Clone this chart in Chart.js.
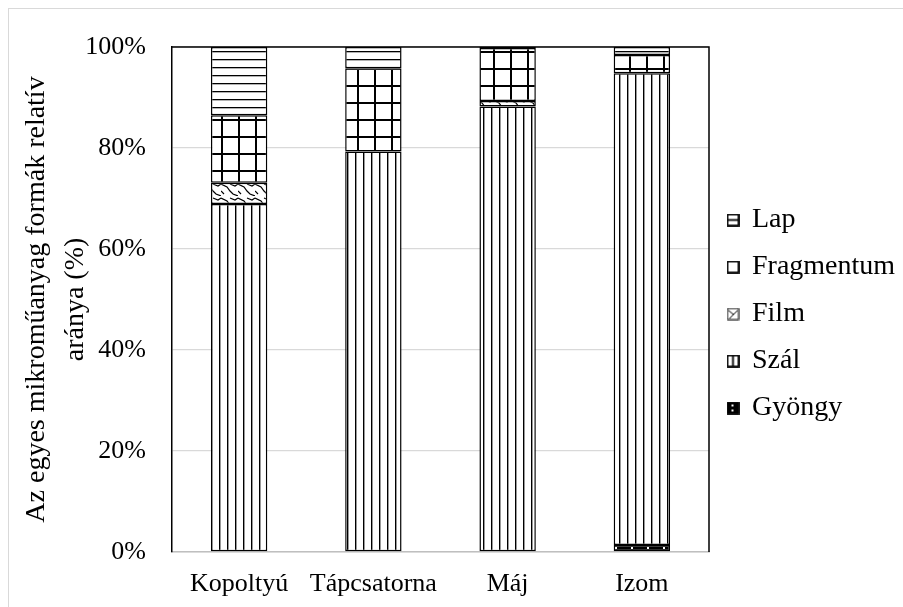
<!DOCTYPE html>
<html>
<head>
<meta charset="utf-8">
<script src="https://cdn.jsdelivr.net/npm/chart.js@4.4.1/dist/chart.umd.min.js"></script>
<style>
    body { margin: 0; background: #fff; }
    #wrap { width: 903px; height: 607px; position: relative; }
</style>
</head>
<body>
<div id="wrap"><canvas id="formakChart"></canvas></div>
<script>
// Adatok (a kép alapján becsülve, %)
const kategoriak = ['Kopoltyú', 'Tápcsatorna', 'Máj', 'Izom'];
const gyongy = [0, 0, 0, 1.4];
const szal = [68.9, 79.3, 88.2, 93.4];
const film = [4.2, 0, 1.1, 0];
const fragmentum = [13.4, 16.5, 10.5, 3.6];
const lap = [13.5, 4.2, 0.2, 1.6];
const yTickek = ['0%', '20%', '40%', '60%', '80%', '100%'];

// Mintázat készítése kis vászonból
function keszitVaszon(w, h, rajzol) {
    const c = document.createElement('canvas');
    c.width = w;
    c.height = h;
    const g = c.getContext('2d');
    rajzol(g, w, h);
    return c;
}
function minta(w, h, rajzol) {
    const c = keszitVaszon(w, h, rajzol);
    return c.getContext('2d').createPattern(c, 'repeat');
}

const mintaGyongy = minta(16, 8, (g, w, h) => {
    g.fillStyle = '#000';
    g.fillRect(0, 0, w, h);
    g.fillStyle = '#fff';
    g.fillRect(7, 3, 2, 2);
});
const mintaSzal = minta(8, 8, (g, w, h) => {
    g.fillStyle = '#fff';
    g.fillRect(0, 0, w, h);
    g.fillStyle = '#000';
    g.fillRect(3, 0, 1.4, h);
});
const mintaFilm = minta(17, 14, (g, w, h) => {
    g.fillStyle = '#fff';
    g.fillRect(0, 0, w, h);
    g.strokeStyle = '#000';
    g.lineWidth = 1.2;
    g.beginPath();
    g.moveTo(0, 2); g.lineTo(6, 5); g.lineTo(9, 9); g.lineTo(12, 12); g.lineTo(17, 14);
    g.moveTo(9, 2); g.lineTo(14, 4); g.lineTo(17, 2);
    g.moveTo(0, 9); g.lineTo(3, 12);
    g.stroke();
});
const mintaFragmentum = minta(17, 17, (g, w, h) => {
    g.fillStyle = '#fff';
    g.fillRect(0, 0, w, h);
    g.fillStyle = '#000';
    g.fillRect(0, 0, 2, h);
    g.fillRect(0, 0, w, 2);
});
const mintaLap = minta(8, 8, (g, w, h) => {
    g.fillStyle = '#fff';
    g.fillRect(0, 0, w, h);
    g.fillStyle = '#000';
    g.fillRect(0, 3, w, 1.3);
});

// Jelmagyarázat ikonok
function ikon(belso) {
    return keszitVaszon(13, 13, (g) => {
        g.fillStyle = '#fff';
        g.fillRect(0, 0, 13, 13);
        g.strokeStyle = '#000';
        g.lineWidth = 1.8;
        belso(g);
        g.strokeRect(1, 1, 11, 11);
    });
}
const ikonok = [
    ikon((g) => { g.fillStyle = '#000'; g.fillRect(1, 1, 11, 11); g.fillStyle = '#fff'; g.fillRect(5, 3, 2, 2); g.fillRect(5, 8, 2, 2); }),
    ikon((g) => { g.beginPath(); g.moveTo(6.5, 1); g.lineTo(6.5, 12); g.stroke(); }),
    ikon((g) => { g.lineWidth = 1; g.beginPath(); g.moveTo(2, 3); g.lineTo(7, 7); g.lineTo(11, 3); g.moveTo(7, 7); g.lineTo(3, 11); g.stroke(); }),
    ikon(() => {}),
    ikon((g) => { g.beginPath(); g.moveTo(1, 6.5); g.lineTo(12, 6.5); g.stroke(); })
];

// Keret és plot terület vonalai
const keretPlugin = {
    id: 'keret',
    beforeDraw(chart) {
        const ctx = chart.ctx;
        ctx.save();
        ctx.fillStyle = '#fff';
        ctx.fillRect(0, 0, chart.width, chart.height);
        ctx.strokeStyle = '#d9d9d9';
        ctx.lineWidth = 1;
        ctx.strokeRect(8.5, 8.5, chart.width, chart.height);
        ctx.restore();
    },
    beforeDatasetsDraw(chart) {
        const { ctx, chartArea: a } = chart;
        ctx.save();
        ctx.strokeStyle = '#000';
        ctx.lineWidth = 1.5;
        ctx.beginPath();
        ctx.moveTo(a.left, a.top);
        ctx.lineTo(a.right, a.top);
        ctx.lineTo(a.right, a.bottom);
        ctx.stroke();
        ctx.restore();
    }
};

Chart.defaults.font.family = '"Liberation Serif", "Times New Roman", serif';
Chart.defaults.font.size = 26;
Chart.defaults.color = '#000';

function sorozat(nev, adat, hatter) {
    return {
        label: nev,
        data: adat,
        backgroundColor: hatter,
        borderColor: '#000',
        borderWidth: 1.5,
        borderSkipped: false,
        barPercentage: 0.42,
        categoryPercentage: 1
    };
}

const ctx = document.getElementById('formakChart').getContext('2d');
const formakChart = new Chart(ctx, {
    type: 'bar',
    data: {
        labels: kategoriak,
        datasets: [
            sorozat('Gyöngy', gyongy, mintaGyongy),
            sorozat('Szál', szal, mintaSzal),
            sorozat('Film', film, mintaFilm),
            sorozat('Fragmentum', fragmentum, mintaFragmentum),
            sorozat('Lap', lap, mintaLap)
        ]
    },
    options: {
        responsive: true,
        maintainAspectRatio: false,
        animation: false,
        layout: {
            padding: { left: 8, top: 47, right: 0, bottom: 0 }
        },
        plugins: {
            legend: {
                position: 'right',
                align: 'start',
                reverse: true,
                maxWidth: 194,
                title: {
                    display: true,
                    text: ' ',
                    font: { size: 10, lineHeight: 1 },
                    padding: { top: 130, bottom: 0 }
                },
                labels: {
                    usePointStyle: true,
                    boxWidth: 10,
                    boxHeight: 13,
                    padding: 19,
                    font: { size: 28 },
                    generateLabels: (chart) => Chart.defaults.plugins.legend.labels.generateLabels(chart)
                        .map(l => ({ ...l, pointStyle: ikonok[l.datasetIndex] }))
                }
            },
            tooltip: { enabled: false }
        },
        scales: {
            x: {
                stacked: true,
                grid: { display: false, drawTicks: false },
                border: { display: true, color: '#bfbfbf', width: 1.5 },
                ticks: { padding: 17, font: { size: 26 }, maxRotation: 0, minRotation: 0, autoSkip: false },
                afterFit: (scale) => { scale.height = 55; }
            },
            y: {
                stacked: true,
                min: 0,
                max: 100,
                grid: { color: '#d9d9d9', lineWidth: 1.3, drawTicks: false },
                border: { display: true, color: '#000', width: 1.5 },
                ticks: {
                    stepSize: 20,
                    padding: 26,
                    font: { size: 26 },
                    callback: (v, i) => yTickek[i]
                },
                title: {
                    display: true,
                    text: ['Az egyes mikroműanyag formák relatív', 'aránya (%)'],
                    font: { size: 28, lineHeight: 1.4 },
                    padding: { top: 9, bottom: 4 }
                },
                afterFit: (scale) => { scale.width = 164; }
            }
        }
    },
    plugins: [keretPlugin]
});
</script>
</body>
</html>
